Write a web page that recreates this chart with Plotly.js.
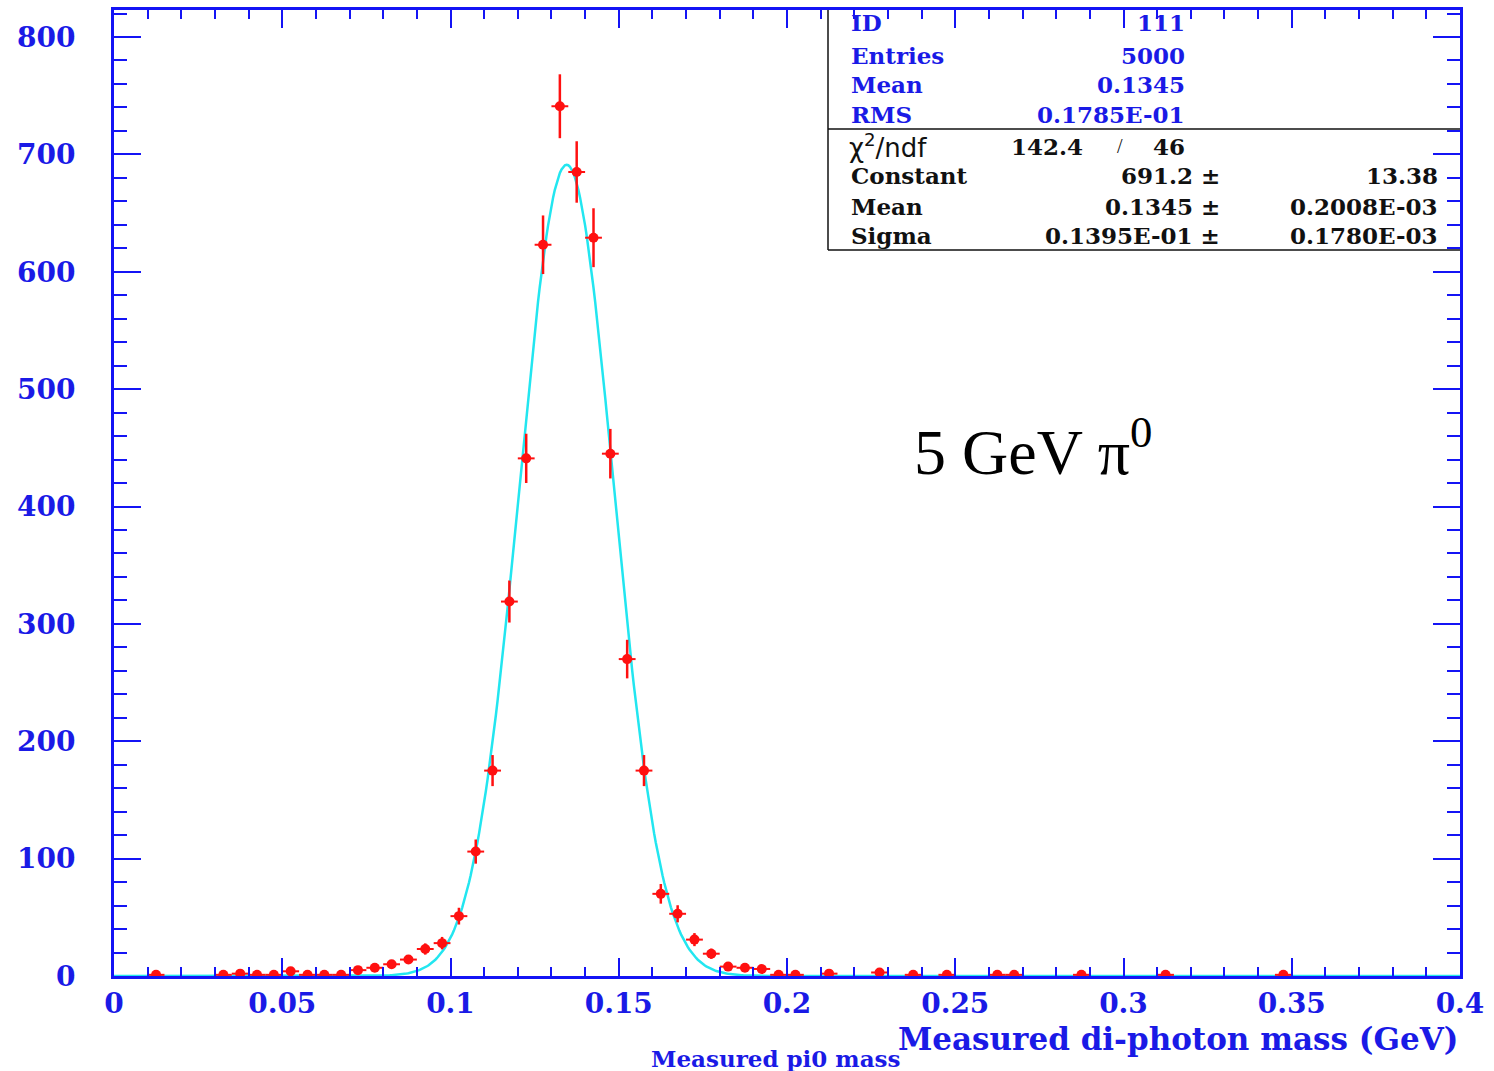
<!DOCTYPE html>
<html>
<head>
<meta charset="utf-8">
<script src="https://cdn.plot.ly/plotly-3.0.1.min.js"></script>
<style>html,body{margin:0;padding:0;background:#fff;}#plot{width:1494px;height:1071px;}</style>
</head>
<body>
<div id="plot"></div>
<script>
// Histogram bin centres (GeV), bin width 0.005
const binCenters = [0.0125, 0.0325, 0.0375, 0.0425, 0.0475, 0.0525, 0.0575, 0.0625, 0.0675,
  0.0725, 0.0775, 0.0825, 0.0875, 0.0925, 0.0975, 0.1025, 0.1075, 0.1125, 0.1175, 0.1225,
  0.1275, 0.1325, 0.1375, 0.1425, 0.1475, 0.1525, 0.1575, 0.1625, 0.1675, 0.1725, 0.1775,
  0.1825, 0.1875, 0.1925, 0.1975, 0.2025, 0.2125, 0.2275, 0.2375, 0.2475, 0.2625, 0.2675,
  0.2875, 0.3125, 0.3475];
const counts = [1, 1, 2, 1, 1, 4, 1, 1, 1,
  5, 7, 10, 14, 23, 28, 51, 106, 175, 319, 441,
  623, 741, 685, 629, 445, 270, 175, 70, 53, 31, 19,
  8, 7, 6, 1, 1, 2, 3, 1, 1, 1, 1,
  1, 1, 1];
const binHalfWidth = 0.0025;

// Gaussian fit parameters (from the stats box)
const fitConstant = 691.2;
const fitMean = 0.1345;
const fitSigma = 0.01395;

const xTickVals = [0, 0.05, 0.1, 0.15, 0.2, 0.25, 0.3, 0.35, 0.4];
const xTickText = ['0', '0.05', '0.1', '0.15', '0.2', '0.25', '0.3', '0.35', '0.4'];
const yTickVals = [0, 100, 200, 300, 400, 500, 600, 700, 800];

const statsTop = [['ID', '111'], ['Entries', '5000'], ['Mean', '0.1345'], ['RMS', '0.1785E-01']];
const fitRows = [['Constant', '691.2 \u00b1', '13.38'], ['Mean', '0.1345 \u00b1', '0.2008E-03'], ['Sigma', '0.1395E-01 \u00b1', '0.1780E-03']];
const chi2 = '142.4', ndf = '46';

// fit curve evaluated from the fit parameters
const fitX = [], fitY = [];
for (let i = 0; i <= 800; i++) {
  const x = i * 0.0005;
  fitX.push(x);
  fitY.push(fitConstant * Math.exp(-0.5 * Math.pow((x - fitMean) / fitSigma, 2)));
}
const errY = counts.map(c => Math.sqrt(c));

const BLUE = '#1414f5';
const TXT = '#1a1ae6';
const SERIF = 'Liberation Serif, Times New Roman, serif';
const WSERIF = 'DejaVu Serif, serif';

// pixel -> paper helpers (plot area 114..1460, 10..976)
const L = 114, R = 1460, T = 10, B = 976;
const px = p => (p - L) / (R - L);
const py = p => (B - p) / (B - T);

const traces = [
  {
    x: fitX, y: fitY, type: 'scatter', mode: 'lines',
    line: {color: '#22e6f0', width: 2.5}, hoverinfo: 'skip'
  },
  {
    x: binCenters, y: counts, type: 'scatter', mode: 'markers',
    marker: {color: '#ff1010', size: 10},
    error_y: {type: 'data', array: errY, visible: true, color: '#ff1010', thickness: 2.5, width: 0},
    error_x: {type: 'constant', value: binHalfWidth, visible: true, color: '#ff1010', thickness: 2, width: 0}
  }
];

const SF = 23;
const annotations = [];
const rowY = [22, 55, 85, 114];
statsTop.forEach((r, i) => {
  annotations.push({xref: 'paper', yref: 'paper', x: px(849), y: py(rowY[i]), xanchor: 'left', yanchor: 'middle',
    text: '<b>' + r[0] + '</b>', showarrow: false, font: {family: WSERIF, size: SF, color: TXT}});
  annotations.push({xref: 'paper', yref: 'paper', x: px(1187), y: py(rowY[i]), xanchor: 'right', yanchor: 'middle',
    text: '<b>' + r[1] + '</b>', showarrow: false, font: {family: WSERIF, size: SF, color: TXT}});
});
annotations.push({xref: 'paper', yref: 'paper', x: px(847), y: py(146), xanchor: 'left', yanchor: 'middle',
  text: '\u03c7<sup>2</sup>/ndf', showarrow: false, font: {family: 'DejaVu Sans', size: 26, color: '#111'}});
annotations.push({xref: 'paper', yref: 'paper', x: px(1085), y: py(146), xanchor: 'right', yanchor: 'middle',
  text: '<b>' + chi2 + '</b>', showarrow: false, font: {family: WSERIF, size: SF, color: '#111'}});
annotations.push({xref: 'paper', yref: 'paper', x: px(1120), y: py(146), xanchor: 'center', yanchor: 'middle',
  text: '/', showarrow: false, font: {family: SERIF, size: 20, color: '#111'}});
annotations.push({xref: 'paper', yref: 'paper', x: px(1187), y: py(146), xanchor: 'right', yanchor: 'middle',
  text: '<b>' + ndf + '</b>', showarrow: false, font: {family: WSERIF, size: SF, color: '#111'}});
const fitRowY = [176, 206, 236];
fitRows.forEach((r, i) => {
  annotations.push({xref: 'paper', yref: 'paper', x: px(849), y: py(fitRowY[i]), xanchor: 'left', yanchor: 'middle',
    text: '<b>' + r[0] + '</b>', showarrow: false, font: {family: WSERIF, size: SF, color: '#111'}});
  annotations.push({xref: 'paper', yref: 'paper', x: px(1222), y: py(fitRowY[i]), xanchor: 'right', yanchor: 'middle',
    text: '<b>' + r[1] + '</b>', showarrow: false, font: {family: WSERIF, size: SF, color: '#111'}});
  annotations.push({xref: 'paper', yref: 'paper', x: px(1440), y: py(fitRowY[i]), xanchor: 'right', yanchor: 'middle',
    text: '<b>' + r[2] + '</b>', showarrow: false, font: {family: WSERIF, size: SF, color: '#111'}});
});
annotations.push({xref: 'paper', yref: 'paper', x: px(912), y: py(448), xanchor: 'left', yanchor: 'middle',
  text: '5 GeV \u03c0<sup>0</sup>', showarrow: false, font: {family: SERIF, size: 64, color: '#000'}});
annotations.push({xref: 'paper', yref: 'paper', x: px(1460), y: py(1039), xanchor: 'right', yanchor: 'middle',
  text: '<b>Measured di-photon mass (GeV)</b>', showarrow: false, font: {family: WSERIF, size: 31, color: TXT}});
annotations.push({xref: 'paper', yref: 'paper', x: px(649), y: py(1058), xanchor: 'left', yanchor: 'middle',
  text: '<b>Measured pi0 mass</b>', showarrow: false, font: {family: WSERIF, size: 23, color: TXT}});

const shapes = [
  {type: 'line', xref: 'paper', yref: 'paper', x0: px(828), x1: px(828), y0: 1, y1: py(250), line: {color: '#111', width: 1.5}},
  {type: 'line', xref: 'paper', yref: 'paper', x0: px(828), x1: 1, y0: py(129), y1: py(129), line: {color: '#111', width: 1.5}},
  {type: 'line', xref: 'paper', yref: 'paper', x0: px(828), x1: 1, y0: py(250), y1: py(250), line: {color: '#111', width: 1.5}}
];

const layout = {
  width: 1494, height: 1071,
  margin: {l: L, r: 1494 - R, t: T, b: 1071 - B},
  paper_bgcolor: '#fff', plot_bgcolor: '#fff',
  showlegend: false,
  xaxis: {
    range: [0, 0.4], showgrid: false, zeroline: false,
    showline: true, linecolor: BLUE, linewidth: 3, mirror: 'ticks',
    ticks: 'inside', ticklen: 18, tickwidth: 2, tickcolor: BLUE,
    tickvals: xTickVals, ticktext: xTickText, ticklabelstandoff: 0,
    tickfont: {family: WSERIF, size: 28, color: TXT, weight: 'bold'},
    minor: {dtick: 0.01, tick0: 0, ticks: 'inside', ticklen: 9, tickwidth: 2, tickcolor: BLUE, showgrid: false}
  },
  yaxis: {
    range: [0, 823], showgrid: false, zeroline: false,
    showline: true, linecolor: BLUE, linewidth: 3, mirror: 'ticks',
    ticks: 'inside', ticklen: 27, tickwidth: 2, tickcolor: BLUE,
    tickvals: yTickVals, ticklabelstandoff: 30,
    tickfont: {family: WSERIF, size: 28, color: TXT, weight: 'bold'},
    minor: {dtick: 20, tick0: 0, ticks: 'inside', ticklen: 13, tickwidth: 2, tickcolor: BLUE, showgrid: false}
  },
  annotations: annotations,
  shapes: shapes
};

Plotly.newPlot('plot', traces, layout, {staticPlot: true, displayModeBar: false});
</script>
</body>
</html>
